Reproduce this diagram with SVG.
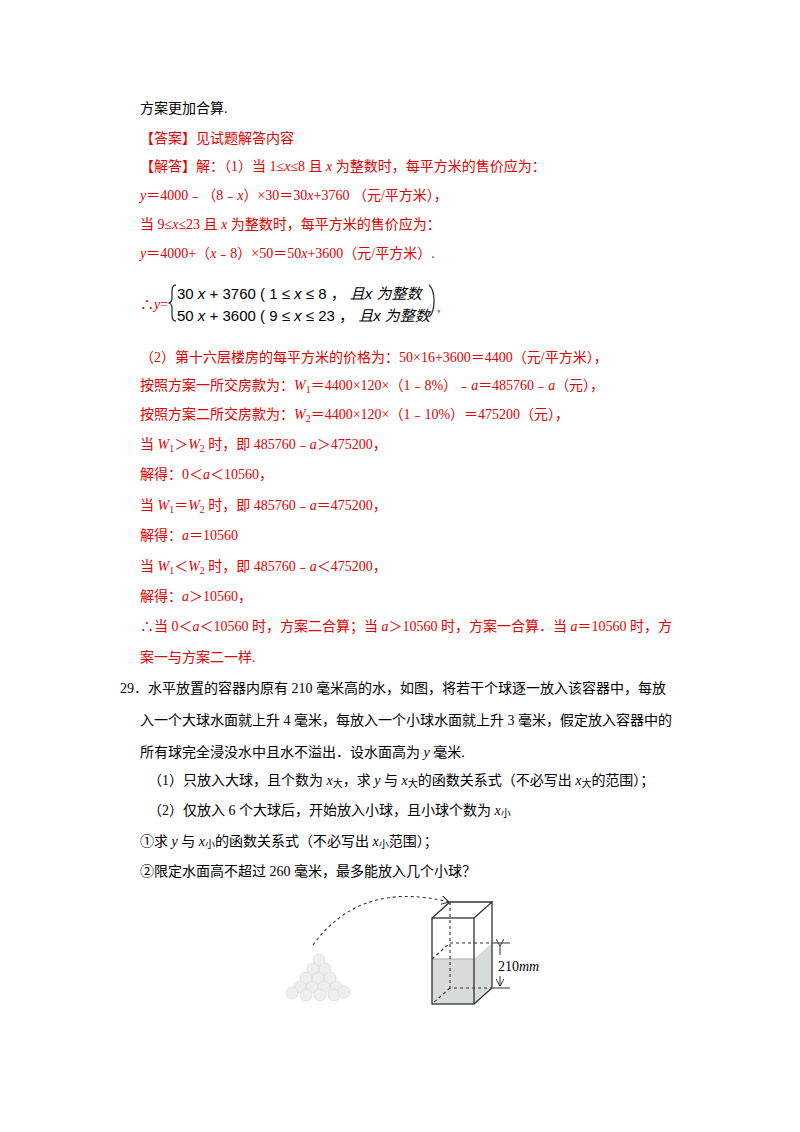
<svg xmlns="http://www.w3.org/2000/svg" width="800" height="1132" viewBox="0 0 800 1132">
<style>
text{font-family:"Liberation Serif","Noto Sans CJK SC",serif;font-size:14px;fill:#000}
.r{fill:#e60000}
.i{font-style:italic}
.m{font-family:"Liberation Sans","Noto Sans CJK SC",sans-serif;font-size:15px;fill:#000}
.ln{stroke:#333;stroke-width:1.3;fill:none}
.d{stroke:#333;stroke-width:1.1;fill:none;stroke-dasharray:3,3}
</style>
<defs><marker id="ah" markerWidth="8" markerHeight="8" refX="7" refY="4" orient="auto"><path d="M0,0 L7,4 L0,8" fill="none" stroke="#333"/></marker></defs>
<rect width="800" height="1132" fill="#fff"/>
<text x="140" y="113">方案更加合算.</text>
<text class="r" x="140" y="143">【答案】见试题解答内容</text>
<text class="r" x="140" y="171">【解答】解：（1）当 1≤<tspan class="i">x</tspan>≤8 且 <tspan class="i">x</tspan> 为整数时，每平方米的售价应为：</text>
<text class="r" x="140" y="200"><tspan class="i">y</tspan>＝4000﹣（8﹣<tspan class="i">x</tspan>）×30＝30<tspan class="i">x</tspan>+3760 （元/平方米），</text>
<text class="r" x="140" y="229">当 9≤<tspan class="i">x</tspan>≤23 且 <tspan class="i">x</tspan> 为整数时，每平方米的售价应为：</text>
<text class="r" x="140" y="258"><tspan class="i">y</tspan>＝4000+（<tspan class="i">x</tspan>﹣8）×50＝50<tspan class="i">x</tspan>+3600（元/平方米）.</text>
<text class="r" x="140" y="309">∴<tspan class="i">y</tspan>=</text>
<path d="M176,285 q-4,0 -4,6 v7 q0,4 -3,5 q3,1 3,5 v7 q0,6 4,6" class="ln"/>
<text class="m" x="177" y="299">30<tspan class="i"> x</tspan> + 3760 ( 1 ≤ <tspan class="i">x</tspan> ≤ 8 ， <tspan class="i">且x 为整数</tspan></text>
<text class="m" x="177" y="321">50<tspan class="i"> x</tspan> + 3600 ( 9 ≤ <tspan class="i">x</tspan> ≤ 23 ， <tspan class="i">且x 为整数</tspan></text>
<path d="M429,285 q5,4 5,16 q0,12 -5,16" class="ln"/>
<text class="r" x="437" y="312">,</text>
<text class="r" x="140" y="362">（2）第十六层楼房的每平方米的价格为：50×16+3600＝4400（元/平方米），</text>
<text class="r" x="140" y="390">按照方案一所交房款为：<tspan class="i">W</tspan><tspan font-size="10" dy="3">1</tspan><tspan dy="-3">＝4400×120×（1﹣8%）﹣</tspan><tspan class="i">a</tspan>＝485760﹣<tspan class="i">a</tspan>（元），</text>
<text class="r" x="140" y="419">按照方案二所交房款为：<tspan class="i">W</tspan><tspan font-size="10" dy="3">2</tspan><tspan dy="-3">＝4400×120×（1﹣10%）＝475200（元），</tspan></text>
<text class="r" x="140" y="449">当 <tspan class="i">W</tspan><tspan font-size="10" dy="3">1</tspan><tspan dy="-3">＞</tspan><tspan class="i">W</tspan><tspan font-size="10" dy="3">2</tspan><tspan dy="-3"> 时，即 485760﹣</tspan><tspan class="i">a</tspan>＞475200，</text>
<text class="r" x="140" y="479">解得：0＜<tspan class="i">a</tspan>＜10560，</text>
<text class="r" x="140" y="510">当 <tspan class="i">W</tspan><tspan font-size="10" dy="3">1</tspan><tspan dy="-3">＝</tspan><tspan class="i">W</tspan><tspan font-size="10" dy="3">2</tspan><tspan dy="-3"> 时，即 485760﹣</tspan><tspan class="i">a</tspan>＝475200，</text>
<text class="r" x="140" y="540">解得：<tspan class="i">a</tspan>＝10560</text>
<text class="r" x="140" y="571">当 <tspan class="i">W</tspan><tspan font-size="10" dy="3">1</tspan><tspan dy="-3">＜</tspan><tspan class="i">W</tspan><tspan font-size="10" dy="3">2</tspan><tspan dy="-3"> 时，即 485760﹣</tspan><tspan class="i">a</tspan>＜475200，</text>
<text class="r" x="140" y="601">解得：<tspan class="i">a</tspan>＞10560，</text>
<text class="r" x="140" y="631">∴当 0＜<tspan class="i">a</tspan>＜10560 时，方案二合算；当 <tspan class="i">a</tspan>＞10560 时，方案一合算．当 <tspan class="i">a</tspan>＝10560 时，方</text>
<text class="r" x="140" y="662">案一与方案二一样.</text>
<text x="120" y="693">29．水平放置的容器内原有 210 毫米高的水，如图，将若干个球逐一放入该容器中，每放</text>
<text x="140" y="725">入一个大球水面就上升 4 毫米，每放入一个小球水面就上升 3 毫米，假定放入容器中的</text>
<text x="140" y="757">所有球完全浸没水中且水不溢出．设水面高为 <tspan class="i">y</tspan> 毫米.</text>
<text x="148" y="785">（1）只放入大球，且个数为 <tspan class="i">x</tspan><tspan font-size="10" dy="2">大</tspan><tspan dy="-2">，求 </tspan><tspan class="i">y</tspan> 与 <tspan class="i">x</tspan><tspan font-size="10" dy="2">大</tspan><tspan dy="-2">的函数关系式（不必写出 </tspan><tspan class="i">x</tspan><tspan font-size="10" dy="2">大</tspan><tspan dy="-2">的范围）；</tspan></text>
<text x="148" y="815">（2）仅放入 6 个大球后，开始放入小球，且小球个数为 <tspan class="i">x</tspan><tspan font-size="10" dy="2">小</tspan></text>
<text x="140" y="846">①求 <tspan class="i">y</tspan> 与 <tspan class="i">x</tspan><tspan font-size="10" dy="2">小</tspan><tspan dy="-2">的函数关系式（不必写出 </tspan><tspan class="i">x</tspan><tspan font-size="10" dy="2">小</tspan><tspan dy="-2">范围）；</tspan></text>
<text x="140" y="876">②限定水面高不超过 260 毫米，最多能放入几个小球？</text>
<g id="figure">
<path d="M313,945 Q360,880 449,902" class="d" marker-end="url(#ah)"/>
<g id="balls" fill="#eee" stroke="#ddd" stroke-width="0.8">
<circle cx="319" cy="960" r="6"/>
<circle cx="313" cy="969" r="6"/><circle cx="325" cy="969" r="6"/>
<circle cx="306" cy="978" r="6"/><circle cx="318" cy="978" r="6"/><circle cx="330" cy="978" r="6"/>
<circle cx="300" cy="987" r="6"/><circle cx="312" cy="987" r="6"/><circle cx="324" cy="987" r="6"/><circle cx="336" cy="987" r="6"/>
<circle cx="292" cy="993" r="6"/><circle cx="306" cy="995" r="6"/><circle cx="320" cy="995" r="6"/><circle cx="334" cy="995" r="6"/><circle cx="344" cy="992" r="6"/>
</g>
<g id="container">
<polygon points="432,959 474,959 492,943 492,988 474,1004 432,1004" fill="#d8dcd8"/>
<line x1="432" y1="959" x2="474" y2="959" stroke="#aaa"/>
<rect x="432" y="918" width="42" height="86" class="ln"/>
<path d="M432,918 L450,902 L492,902 L474,918 M492,902 L492,988 L474,1004" class="ln"/>
<path d="M450,902 V988 H492 M450,988 L432,1004 M450,943 H492 M432,959 L450,943" class="d"/>
<line x1="492" y1="943" x2="510" y2="943" stroke="#333"/>
<line x1="492" y1="988" x2="510" y2="988" stroke="#333"/>
<line x1="500" y1="946" x2="500" y2="955" stroke="#333" marker-start="url(#ah)"/>
<line x1="500" y1="976" x2="500" y2="986" stroke="#333" marker-end="url(#ah)"/>
<text x="498" y="971" font-size="13">210<tspan class="i">mm</tspan></text>
</g>
</g>
</svg>
